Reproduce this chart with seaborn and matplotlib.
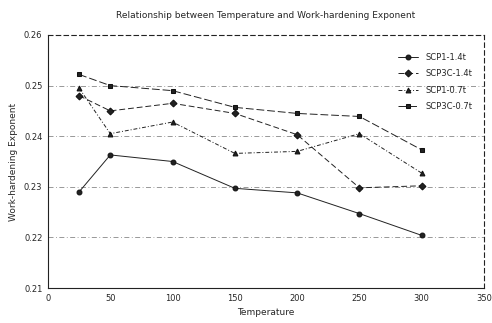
import matplotlib
matplotlib.use("Agg")
import matplotlib.pyplot as plt
import seaborn as sns
import pandas as pd

temps = [25, 50, 100, 150, 200, 250, 300]
scp1_14 = [0.2290, 0.2363, 0.2350, 0.2297, 0.2288, 0.2247, 0.2204]
scp3c_14 = [0.2480, 0.2450, 0.2465, 0.2445, 0.2403, 0.2298, 0.2302]
scp1_07 = [0.2495, 0.2405, 0.2428, 0.2366, 0.2370, 0.2405, 0.2327]
scp3c_07 = [0.2522, 0.2500, 0.2490, 0.2457, 0.2445, 0.2439, 0.2373]
names = ["SCP1-1.4t", "SCP3C-1.4t", "SCP1-0.7t", "SCP3C-0.7t"]

rows = []
for n, vals in zip(names, [scp1_14, scp3c_14, scp1_07, scp3c_07]):
    for t, v in zip(temps, vals):
        rows.append({"Temperature": t, "Exponent": v, "Series": n})
df = pd.DataFrame(rows)

sns.set_style("white")
plt.rcParams['font.family'] = ['DejaVu Sans']

fig = plt.figure(figsize=(4.92, 3.23), dpi=100)
ax = fig.add_axes([48/492, 1-288/323, 436/492, 253/323])

for y in [0.22, 0.23, 0.24, 0.25]:
    ax.axhline(y, color="#888888", lw=0.6, ls=(0, (6, 3, 1, 3)), zorder=0)

markers = {"SCP1-1.4t": "o", "SCP3C-1.4t": "D", "SCP1-0.7t": "^", "SCP3C-0.7t": "s"}
dashes = {"SCP1-1.4t": "", "SCP3C-1.4t": (6, 3), "SCP1-0.7t": (4, 2, 1, 2), "SCP3C-0.7t": (8, 3)}
sns.lineplot(data=df, x="Temperature", y="Exponent", hue="Series", style="Series",
             markers=markers, dashes=dashes, palette=["#222222"]*4,
             markersize=3.5, linewidth=0.7, ax=ax, markeredgecolor="#111111")

ax.set_xlim(0, 350)
ax.set_ylim(0.21, 0.26)
ax.set_xticks(range(0, 351, 50))
ax.set_yticks([0.21, 0.22, 0.23, 0.24, 0.25, 0.26])
ax.set_yticklabels(["0.21", "0.22", "0.23", "0.24", "0.25", "0.26"])
ax.tick_params(labelsize=6, length=0, pad=4)
ax.set_xlabel("Temperature", fontsize=6.5)
ax.set_ylabel("Work-hardening Exponent", fontsize=6.5)
ax.set_title("Relationship between Temperature and Work-hardening Exponent", fontsize=6.5, pad=12)
for s in ax.spines.values():
    s.set_color("#222222")
    s.set_linewidth(0.8)
ax.spines["right"].set_linestyle((0, (4, 3)))
ax.spines["top"].set_linestyle((0, (4, 3)))

leg = ax.legend(loc="upper right", bbox_to_anchor=(0.99, 0.96), fontsize=6, frameon=False,
                handlelength=2.5, labelspacing=0.9)
fig.savefig("out.png", dpi=100)
